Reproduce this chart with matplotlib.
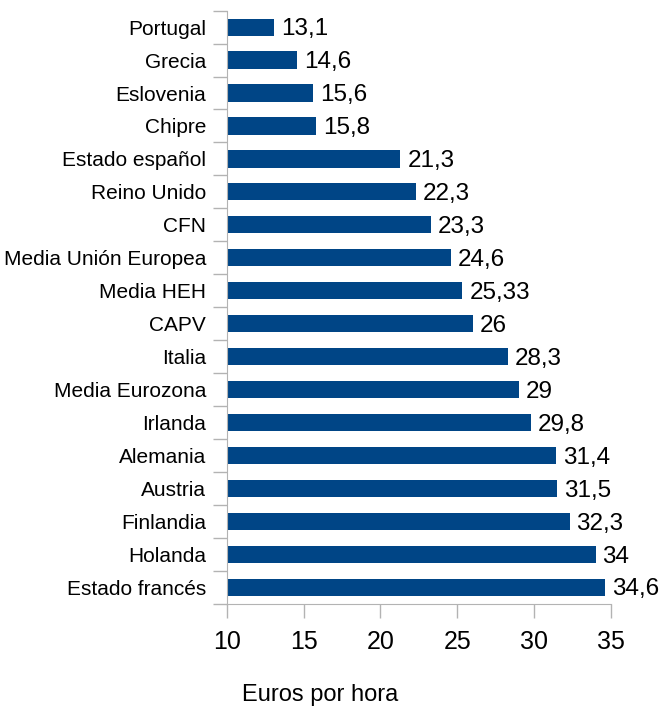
import matplotlib
matplotlib.use("Agg")
import matplotlib.pyplot as plt
import numpy as np

# data, top to bottom
paises = ['Portugal', 'Grecia', 'Eslovenia', 'Chipre', 'Estado español',
          'Reino Unido', 'CFN', 'Media Unión Europea', 'Media HEH', 'CAPV',
          'Italia', 'Media Eurozona', 'Irlanda', 'Alemania', 'Austria',
          'Finlandia', 'Holanda', 'Estado francés']
valores = [13.1, 14.6, 15.6, 15.8, 21.3, 22.3, 23.3, 24.6, 25.33, 26,
           28.3, 29, 29.8, 31.4, 31.5, 32.3, 34, 34.6]
etiquetas = ['13,1', '14,6', '15,6', '15,8', '21,3', '22,3', '23,3', '24,6',
             '25,33', '26', '28,3', '29', '29,8', '31,4', '31,5', '32,3',
             '34', '34,6']

plt.rcParams['font.family'] = ['Liberation Sans', 'DejaVu Sans']

fig = plt.figure(figsize=(6.71, 7.06), dpi=100)
ax = fig.add_axes([0.338, 0.1445, 0.5726, 0.8405])

y = np.arange(len(paises))
ax.barh(y, [v - 10 for v in valores], left=10, height=0.52, color='#004586')

for yi, v, lab in zip(y, valores, etiquetas):
    ax.text(v + 0.45, yi + 0.06, lab, va='center', ha='left', fontsize=17.5)

ax.set_xlim(10, 35)
ax.set_ylim(len(paises) - 0.5, -0.5)
ax.set_xticks([10, 15, 20, 25, 30, 35])
ax.set_xticklabels(['10', '15', '20', '25', '30', '35'], fontsize=18)
ax.set_yticks(y)
ax.set_yticklabels(paises, fontsize=15)
ax.tick_params(axis='y', length=0, pad=15)
ax.set_yticks(np.arange(len(paises) + 1) - 0.5, minor=True)
ax.tick_params(axis='y', which='minor', length=10, color='#b3b3b3', width=1)
ax.tick_params(axis='x', length=10, color='#b3b3b3', width=1, pad=9)

for s in ['top', 'right']:
    ax.spines[s].set_visible(False)
for s in ['left', 'bottom']:
    ax.spines[s].set_color('#b3b3b3')

fig.text(0.477, 0.0156, 'Euros por hora', ha='center', va='center', fontsize=17)

fig.savefig('out.png', dpi=100)
